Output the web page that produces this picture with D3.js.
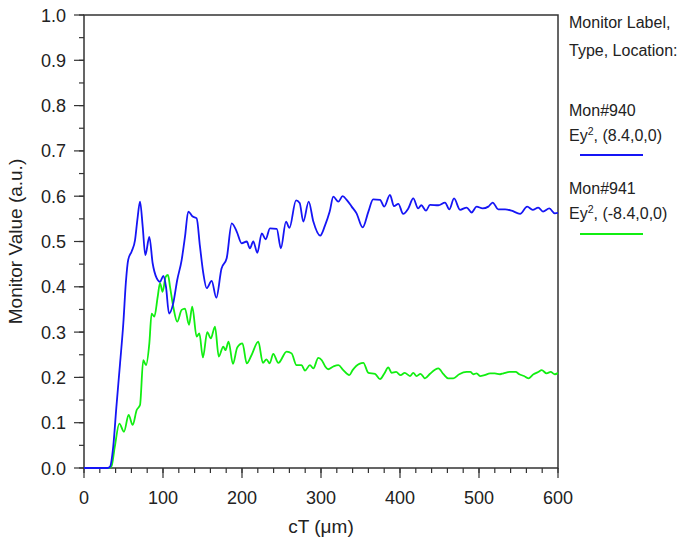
<!DOCTYPE html>
<html>
<head>
<meta charset="utf-8">
<script src="https://cdn.jsdelivr.net/npm/d3@7"></script>
<style>
  body { margin: 0; background: #fff; }
  text { font-family: "Liberation Sans", Arial, sans-serif; fill: #222; }
</style>
</head>
<body>
<script>
// monitor 940, Ey^2 at (8.4,0,0)
var mon940T = [0,30,33,37,41,45.6,49.8,53,56,60.3,64.6,67.5,70.9,74.3,77.6,82.7,86.9,92,96.2,100.4,103.8,107.6,113,118,123.6,127.8,132,137.6,142.6,146.8,151,155.3,161.6,167.5,174,180.6,187,193.3,199.6,206,210,214.3,219.4,225,230,235.4,244,249.2,255.7,260,268.4,273,277.6,284.4,290.3,299,305,311,315.6,322,327.4,332.5,338.8,345,352.7,360,366,374.7,380,387.3,392.4,397.9,404,410.5,416.8,423,427,432.9,438,448.5,457,462.4,468.4,476,484.4,490.7,497,504.6,511.8,517.3,524.4,533,541.3,552,561,568,575,581,589,596,600];
var mon940V = [0,0,0.003,0.047,0.135,0.23,0.32,0.41,0.46,0.478,0.503,0.547,0.588,0.533,0.47,0.51,0.452,0.419,0.411,0.424,0.40,0.341,0.364,0.415,0.459,0.51,0.566,0.555,0.551,0.489,0.43,0.397,0.413,0.376,0.44,0.463,0.54,0.522,0.496,0.5,0.485,0.5,0.475,0.518,0.505,0.529,0.528,0.485,0.544,0.53,0.591,0.585,0.544,0.588,0.544,0.513,0.535,0.566,0.599,0.588,0.6,0.592,0.577,0.562,0.531,0.566,0.593,0.592,0.577,0.603,0.578,0.583,0.561,0.573,0.595,0.573,0.58,0.568,0.581,0.58,0.586,0.571,0.595,0.57,0.575,0.564,0.577,0.573,0.577,0.586,0.571,0.571,0.568,0.561,0.577,0.57,0.575,0.566,0.573,0.562,0.563];

// monitor 941, Ey^2 at (-8.4,0,0)
var mon941T = [0,32,35,39,44.7,50.6,56.5,61.6,66.7,70.9,75,78.5,82.7,85.6,89,93.3,96.2,99.5,103.4,106.3,108.9,113,118,123.6,127.8,132.9,137,142.6,146,150.5,156,160.5,165.8,170.6,176.3,179,183,188.5,194,200.6,206,212,220.6,226.5,231,235,239.6,246,256.5,262.8,269,275.4,279.7,286,290.3,296.6,301,305,309,315.6,322,328.2,335.8,340,348.5,353.6,360,368.4,374.7,380,385.2,389.4,395,400.8,406,412.6,416.8,421,426,431.6,438,444.3,448.6,455,461,467.5,475,484.4,489,493,497,501.3,507,514,520,526.6,531,539,546.4,551,557,562.4,569,575,579.3,585.6,590.7,596,600];
var mon941V = [0,0,0.005,0.047,0.098,0.08,0.117,0.095,0.128,0.139,0.238,0.227,0.275,0.341,0.334,0.378,0.408,0.389,0.422,0.426,0.40,0.356,0.323,0.349,0.352,0.316,0.356,0.29,0.297,0.244,0.30,0.286,0.312,0.246,0.268,0.26,0.279,0.23,0.266,0.275,0.231,0.249,0.279,0.232,0.24,0.231,0.252,0.232,0.257,0.253,0.227,0.227,0.215,0.227,0.22,0.243,0.238,0.225,0.218,0.224,0.227,0.216,0.205,0.216,0.23,0.232,0.21,0.208,0.196,0.208,0.222,0.21,0.212,0.205,0.21,0.203,0.21,0.203,0.208,0.198,0.208,0.217,0.22,0.207,0.198,0.198,0.207,0.212,0.212,0.207,0.209,0.203,0.205,0.209,0.209,0.207,0.209,0.212,0.212,0.207,0.203,0.198,0.207,0.212,0.216,0.209,0.212,0.207,0.21];

var xTicks = [0,100,200,300,400,500,600];
var yTicks = [0,0.1,0.2,0.3,0.4,0.5,0.6,0.7,0.8,0.9,1.0];

var width = 690, height = 541;
var margin = {top: 15, right: 132, bottom: 73, left: 84};

var svg = d3.select("body").append("svg")
  .attr("width", width)
  .attr("height", height);

var x = d3.scaleLinear().domain([0,600]).range([margin.left, width - margin.right]);
var y = d3.scaleLinear().domain([0,1]).range([height - margin.bottom, margin.top]);

var axisColor = "#333";

// minor ticks
var xMinor = d3.range(0, 601, 20);
var yMinor = d3.range(0, 1.001, 0.05);

svg.append("g").selectAll("line").data(xMinor).enter().append("line")
  .attr("x1", d => x(d)).attr("x2", d => x(d))
  .attr("y1", y(0)).attr("y2", y(0) + 5)
  .attr("stroke", axisColor).attr("stroke-width", 1.2);

svg.append("g").selectAll("line").data(yMinor).enter().append("line")
  .attr("x1", x(0) - 5).attr("x2", x(0))
  .attr("y1", d => y(d)).attr("y2", d => y(d))
  .attr("stroke", axisColor).attr("stroke-width", 1.2);

// major ticks + labels
svg.append("g").selectAll("line").data(xTicks).enter().append("line")
  .attr("x1", d => x(d)).attr("x2", d => x(d))
  .attr("y1", y(0)).attr("y2", y(0) + 10)
  .attr("stroke", axisColor).attr("stroke-width", 1.2);

svg.append("g").selectAll("text").data(xTicks).enter().append("text")
  .attr("x", d => x(d))
  .attr("y", y(0) + 36)
  .attr("text-anchor", "middle")
  .style("font-size", "18px")
  .text(d => d);

svg.append("g").selectAll("line").data(yTicks).enter().append("line")
  .attr("x1", x(0) - 10).attr("x2", x(0))
  .attr("y1", d => y(d)).attr("y2", d => y(d))
  .attr("stroke", axisColor).attr("stroke-width", 1.2);

svg.append("g").selectAll("text").data(yTicks).enter().append("text")
  .attr("x", x(0) - 18)
  .attr("y", d => y(d) + 6.5)
  .attr("text-anchor", "end")
  .style("font-size", "18px")
  .text(d => d.toFixed(1));

// frame
svg.append("rect")
  .attr("x", x(0)).attr("y", y(1))
  .attr("width", x(600) - x(0))
  .attr("height", y(0) - y(1))
  .attr("fill", "none")
  .attr("stroke", axisColor)
  .attr("stroke-width", 1.5);

// lines
var line = d3.line()
  .x(d => x(d[0]))
  .y(d => y(d[1]))
  .curve(d3.curveMonotoneX);

var s941 = mon941T.map((t, i) => [t, mon941V[i]]);
var s940 = mon940T.map((t, i) => [t, mon940V[i]]);

svg.append("path").datum(s941)
  .attr("d", line)
  .attr("fill", "none")
  .attr("stroke", "#11ee11")
  .attr("stroke-width", 1.8);

svg.append("path").datum(s940)
  .attr("d", line)
  .attr("fill", "none")
  .attr("stroke", "#1515f5")
  .attr("stroke-width", 1.8);

// axis titles
svg.append("text")
  .attr("x", (x(0) + x(600)) / 2)
  .attr("y", 533)
  .attr("text-anchor", "middle")
  .style("font-size", "19px")
  .text("cT (\u03bcm)");

svg.append("text")
  .attr("transform", "translate(22," + ((y(0) + y(1)) / 2) + ") rotate(-90)")
  .attr("text-anchor", "middle")
  .style("font-size", "19px")
  .text("Monitor Value (a.u.)");

// legend
var lx = 569;
function legendText(yy, txt) {
  svg.append("text").attr("x", lx).attr("y", yy).style("font-size", "16px").text(txt);
}
legendText(28, "Monitor Label,");
legendText(56, "Type, Location:");
legendText(116, "Mon#940");
function eyText(yy, loc) {
  var t = svg.append("text").attr("x", lx).attr("y", yy).style("font-size", "16px");
  t.append("tspan").text("Ey");
  t.append("tspan").attr("dy", -6).style("font-size", "10.5px").text("2");
  t.append("tspan").attr("dy", 6).text(", " + loc);
}
eyText(141, "(8.4,0,0)");
svg.append("line").attr("x1", 580).attr("x2", 643).attr("y1", 155).attr("y2", 155)
  .attr("stroke", "#1515f5").attr("stroke-width", 1.8);
legendText(194, "Mon#941");
eyText(219, "(-8.4,0,0)");
svg.append("line").attr("x1", 580).attr("x2", 643).attr("y1", 234).attr("y2", 234)
  .attr("stroke", "#11ee11").attr("stroke-width", 1.8);
</script>
</body>
</html>
